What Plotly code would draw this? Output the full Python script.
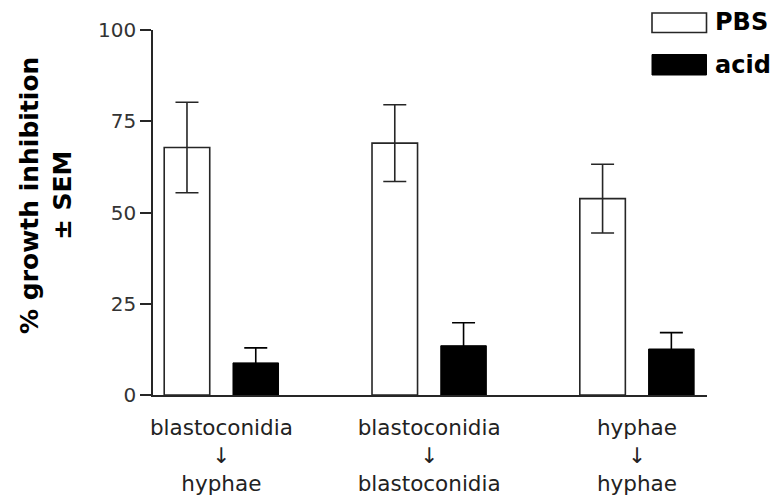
import plotly.graph_objects as go

groups = ["blastoconidia<br>↓<br>hyphae", "blastoconidia<br>↓<br>blastoconidia", "hyphae<br>↓<br>hyphae"]
pbs_mean = [67.8, 69.0, 53.8]
pbs_sem = [12.4, 10.5, 9.4]
acid_mean = [8.8, 13.5, 12.6]
acid_sem = [4.1, 6.3, 4.5]
y_ticks = [0, 25, 50, 75, 100]

x_pos = list(range(len(groups)))
line_col = "#262626"

fig = go.Figure()
fig.add_trace(go.Bar(
    x=x_pos, y=pbs_mean, name="PBS",
    marker=dict(color="white", line=dict(color=line_col, width=1.6)),
    error_y=dict(type="data", array=pbs_sem, visible=True, color=line_col, thickness=1.6, width=11.5),
    showlegend=False,
))
fig.add_trace(go.Bar(
    x=x_pos, y=acid_mean, name="acid",
    marker=dict(color="black", line=dict(color="black", width=1)),
    error_y=dict(type="data", array=acid_sem, visible=True, color="black", thickness=1.6, width=11.5),
    showlegend=False,
))

W, H = 778, 502
ml, mr, mt, mb = 153, 71, 30, 107
pw = W - ml - mr
ph = H - mt - mb

def px_x(p):
    return (p - ml) / pw

def px_y(p):
    return (H - mb - p) / ph

fig.update_layout(
    width=W, height=H,
    margin=dict(l=ml, r=mr, t=mt, b=mb, pad=0, autoexpand=False),
    paper_bgcolor="white", plot_bgcolor="white",
    barmode="group", bargap=0.338, bargroupgap=0.338,
    font=dict(family="DejaVu Sans", color="#222"),
    xaxis=dict(
        range=[-0.329, 2.337], tickvals=x_pos, ticktext=groups,
        showline=True, linecolor=line_col, linewidth=1.6,
        ticks="", showgrid=False, zeroline=False, automargin=False,
        tickfont=dict(family="DejaVu Sans", size=21.5, color="#222"),
        ticklabelstandoff=12,
    ),
    yaxis=dict(
        range=[0, 100], tickvals=y_ticks,
        showline=True, linecolor=line_col, linewidth=1.6,
        ticks="outside", ticklen=11, tickwidth=1.6, tickcolor=line_col,
        showgrid=False, zeroline=False, automargin=False,
        tickfont=dict(family="DejaVu Sans", size=20, color="#333"),
    ),
    shapes=[
        dict(type="rect", xref="paper", yref="paper",
             x0=px_x(652), x1=px_x(706.5), y0=px_y(32.5), y1=px_y(13),
             fillcolor="white", line=dict(color=line_col, width=1.6)),
        dict(type="rect", xref="paper", yref="paper",
             x0=px_x(652), x1=px_x(706.5), y0=px_y(75), y1=px_y(54.5),
             fillcolor="black", line=dict(color="black", width=1)),
    ],
    annotations=[
        dict(text="<b>PBS</b>", xref="paper", yref="paper", x=px_x(713), y=px_y(22.5),
             xanchor="left", yanchor="middle", showarrow=False,
             font=dict(family="DejaVu Sans", size=24, color="black")),
        dict(text="<b>acid</b>", xref="paper", yref="paper", x=px_x(713), y=px_y(65),
             xanchor="left", yanchor="middle", showarrow=False,
             font=dict(family="DejaVu Sans", size=24, color="black")),
        dict(text="<b>% growth inhibition<br>± SEM</b>", xref="paper", yref="paper",
             x=px_x(46), y=px_y(196), xanchor="center", yanchor="middle",
             textangle=-90, showarrow=False,
             font=dict(family="DejaVu Sans", size=25, color="black")),
    ],
)

fig.write_html(
    "out.html",
    config={"displayModeBar": False, "responsive": False},
    post_script="document.body.style.margin='0';document.body.style.padding='0';",
)
